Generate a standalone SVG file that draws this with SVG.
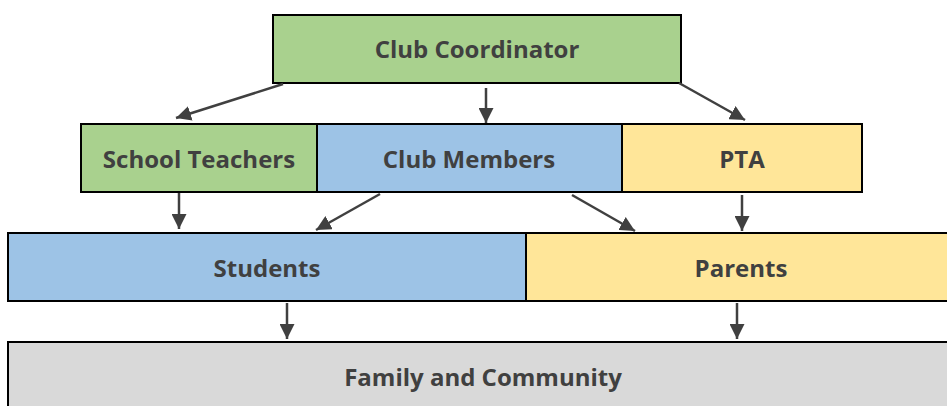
<svg xmlns="http://www.w3.org/2000/svg" width="947" height="406" viewBox="0 0 947 406">
  <style>
    .box { stroke: #000; stroke-width: 2; }
    .green { fill: #A9D18E; }
    .blue { fill: #9DC3E6; }
    .yellow { fill: #FFE699; }
    .grey { fill: #D9D9D9; }
    .label { font-family: "Open Sans", "Liberation Sans", Arial, sans-serif; font-weight: bold; font-size: 24px; fill: #404040; text-anchor: middle; }
    .link { stroke: #404040; stroke-width: 2.5; fill: none; marker-end: url(#arrow); }
  </style>
  <defs>
    <!-- filled triangular arrowhead shared by all connectors -->
    <marker id="arrow" viewBox="0 0 10 10" refX="10" refY="5" markerWidth="6" markerHeight="6" markerUnits="strokeWidth" orient="auto">
      <path d="M0,0 L10,5 L0,10 z" fill="#404040"/>
    </marker>
  </defs>
  <rect width="947" height="406" fill="#fff"/>

  <g id="coordinator">
    <rect class="box green" x="273" y="15" width="408" height="68"/>
    <text class="label" x="477" y="58">Club Coordinator</text>
  </g>
  <g id="teachers">
    <rect class="box green" x="81" y="124" width="236" height="68"/>
    <text class="label" x="199" y="168">School Teachers</text>
  </g>
  <g id="members">
    <rect class="box blue" x="317" y="124" width="305" height="68"/>
    <text class="label" x="469" y="168">Club Members</text>
  </g>
  <g id="pta">
    <rect class="box yellow" x="622" y="124" width="240" height="68"/>
    <text class="label" x="742" y="168">PTA</text>
  </g>
  <g id="students">
    <rect class="box blue" x="8" y="233" width="518" height="68"/>
    <text class="label" x="267" y="277">Students</text>
  </g>
  <g id="parents">
    <rect class="box yellow" x="526" y="233" width="430" height="68"/>
    <text class="label" x="741" y="277">Parents</text>
  </g>
  <g id="community">
    <rect class="box grey" x="8" y="342" width="950" height="80"/>
    <text class="label" x="483" y="386">Family and Community</text>
  </g>

  <g id="connectors">
    <line class="link" x1="283" y1="84" x2="176" y2="118"/>
    <line class="link" x1="486" y1="88" x2="486" y2="123"/>
    <line class="link" x1="679" y1="83" x2="745" y2="120"/>
    <line class="link" x1="179" y1="193" x2="179" y2="229"/>
    <line class="link" x1="380" y1="194" x2="316" y2="230"/>
    <line class="link" x1="572" y1="195" x2="635" y2="231"/>
    <line class="link" x1="742" y1="195" x2="742" y2="231"/>
    <line class="link" x1="287" y1="303" x2="287" y2="339"/>
    <line class="link" x1="737" y1="303" x2="737" y2="339"/>
  </g>
</svg>
